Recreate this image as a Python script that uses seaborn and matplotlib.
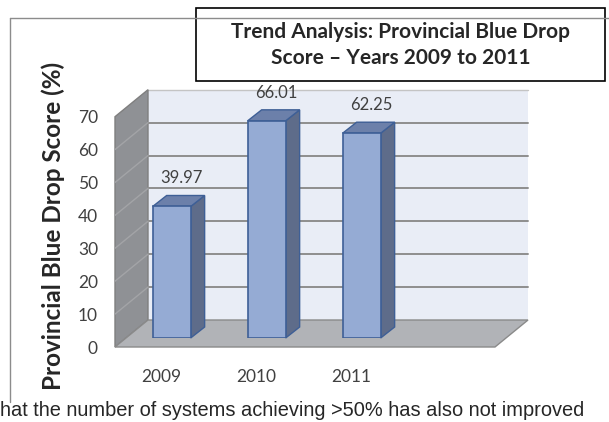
import matplotlib
matplotlib.use("Agg")
import matplotlib.pyplot as plt
import seaborn as sns
import pandas as pd
from matplotlib.patches import Polygon, Rectangle
from matplotlib.lines import Line2D
from matplotlib.transforms import ScaledTranslation

years = ["2009", "2010", "2011"]
scores = [39.97, 66.01, 62.25]
score_labels = ["39.97", "66.01", "62.25"]
y_ticks = [0, 10, 20, 30, 40, 50, 60, 70]
title_lines = ["Trend Analysis: Provincial Blue Drop", "Score \u2013 Years 2009 to 2011"]
y_title = "Provincial Blue Drop Score (%)"
note = "hat the number of systems achieving >50% has also not improved"

sns.set_style("white")
plt.rcParams["font.family"] = ["Lato", "DejaVu Sans"]

W, H = 609, 422
fig = plt.figure(figsize=(W / 100, H / 100), dpi=100)

# axes = plane of the bar front faces
ax = fig.add_axes([127 / W, (H - 338) / H, 380 / W, 230.3 / H])
df = pd.DataFrame({"year": years, "score": scores})
sns.barplot(data=df, x="year", y="score", width=0.4, color="#95abd4",
            edgecolor="#3e5f96", linewidth=1.2, saturation=1, ax=ax, zorder=2)
bars = list(ax.patches)

x0, x1 = -0.47, 3.53
ymax = 70
ax.set_xlim(x0, x1)
ax.set_ylim(0, ymax)
ax.patch.set_visible(False)
for s in ax.spines.values():
    s.set_visible(False)
ax.grid(False)
ax.set_xlabel("")
ax.set_ylabel("")

ux = 380 / (x1 - x0)
uy = 230.3 / ymax
fdx, fdy = -12 / ux, -9 / uy      # front plane
bdx, bdy = 21 / ux, 18 / uy       # back wall plane
ddx, ddy = 14 / ux, 11 / uy       # bar depth

# back wall
ax.add_patch(Rectangle((x0 + bdx, bdy), x1 - x0, ymax, facecolor="#e9edf6",
                       edgecolor="none", zorder=0.1, clip_on=False))
ax.plot([x0 + bdx, x1 + bdx], [ymax + bdy, ymax + bdy], color="#c4c4c4", lw=1,
        zorder=0.2, clip_on=False)
for v in y_ticks[1:-1]:
    ax.plot([x0 + bdx, x1 + bdx], [v + bdy, v + bdy], color="#8e8e8e", lw=1.4,
            zorder=0.3, clip_on=False)

# side wall
ax.add_patch(Polygon([(x0 + fdx, fdy), (x0 + fdx, ymax + fdy),
                      (x0 + bdx, ymax + bdy), (x0 + bdx, bdy)],
                     facecolor="#8f9195", edgecolor="#7f7f7f", lw=1,
                     zorder=0.2, clip_on=False))
for v in y_ticks[1:-1]:
    ax.plot([x0 + fdx, x0 + bdx], [v + fdy, v + bdy], color="#a3a4a7", lw=1,
            zorder=0.3, clip_on=False)

# floor
ax.add_patch(Polygon([(x0 + fdx, fdy), (x1 + fdx, fdy),
                      (x1 + bdx, bdy), (x0 + bdx, bdy)],
                     facecolor="#b1b3b7", edgecolor="#8a8a8a", lw=1,
                     zorder=0.4, clip_on=False))

# bar side and top faces
for b in bars:
    xl = b.get_x()
    xr = xl + b.get_width()
    h = b.get_height()
    ax.add_patch(Polygon([(xr, 0), (xr, h), (xr + ddx, h + ddy), (xr + ddx, ddy)],
                         facecolor="#5e6c8a", edgecolor="#3e5f96", lw=1,
                         zorder=1.9, clip_on=False))
    ax.add_patch(Polygon([(xl, h), (xr, h), (xr + ddx, h + ddy), (xl + ddx, h + ddy)],
                         facecolor="#6c80aa", edgecolor="#3e5f96", lw=1,
                         zorder=1.9, clip_on=False))

# value labels
lab_tr = ax.transData + ScaledTranslation(10 / 100, 28 / 100, fig.dpi_scale_trans)
for b, t in zip(bars, score_labels):
    ax.text(b.get_x() + b.get_width() / 2, b.get_height(), t, transform=lab_tr,
            ha="center", va="center", fontsize=12, color="#404040")

# ticks
ax.set_yticks(y_ticks)
ax.set_yticklabels([str(v) for v in y_ticks])
ax.tick_params(axis="y", length=0, pad=20.9, labelsize=12.5, labelcolor="#404040")
for lab in ax.get_yticklabels():
    lab.set_transform(lab.get_transform() + ScaledTranslation(0, -9 / 100, fig.dpi_scale_trans))
ax.set_xticks(range(len(years)))
ax.set_xticklabels(years)
ax.tick_params(axis="x", length=0, pad=22, labelsize=12.5, labelcolor="#404040")
for lab in ax.get_xticklabels():
    lab.set_transform(lab.get_transform() + ScaledTranslation(-10 / 100, 0, fig.dpi_scale_trans))

# outer chart border
fig.add_artist(Line2D([10 / W, 10 / W], [1 - 402 / H, 1 - 18 / H], color="#8c8c8c", lw=1))
fig.add_artist(Line2D([10 / W, 1], [1 - 18 / H, 1 - 18 / H], color="#8c8c8c", lw=1))

# title box
fig.add_artist(Rectangle((196 / W, 1 - 81 / H), (605 - 196) / W, (81 - 8) / H,
                         transform=fig.transFigure, facecolor="white",
                         edgecolor="black", lw=1.2))
fig.text(400.5 / W, 1 - 32 / H, title_lines[0], ha="center", va="center",
         fontsize=15, fontweight="bold")
fig.text(400.5 / W, 1 - 58 / H, title_lines[1], ha="center", va="center",
         fontsize=15, fontweight="bold")

fig.text(53 / W, 1 - 226 / H, y_title, rotation=90, ha="center", va="center",
         fontsize=17.5, fontweight="bold")

fig.text(0, 1 - 411 / H, note, ha="left", va="center", fontsize=14.4,
         family=["Liberation Sans", "DejaVu Sans"])

fig.savefig("out.png", dpi=100)
